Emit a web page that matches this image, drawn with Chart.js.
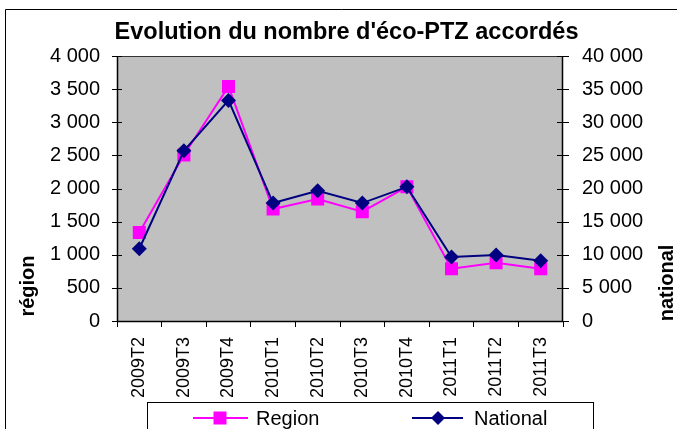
<!DOCTYPE html>
<html>
<head>
<meta charset="utf-8">
<script src="https://cdn.jsdelivr.net/npm/chart.js@4"></script>
<style>
html,body{margin:0;padding:0;background:#fff;}
canvas{display:block;}
</style>
</head>
<body>
<canvas id="c" width="677" height="429"></canvas>
<script>
const categories = ['2009T2','2009T3','2009T4','2010T1','2010T2','2010T3','2010T4','2011T1','2011T2','2011T3'];
const regionValues = [1335, 2505, 3540, 1690, 1840, 1650, 2025, 790, 880, 790];
const nationalValues = [10900, 25700, 33300, 17800, 19650, 17800, 20250, 9650, 9950, 9080];
const regionTicks = [0, 500, 1000, 1500, 2000, 2500, 3000, 3500, 4000];
const nationalTicks = [0, 5000, 10000, 15000, 20000, 25000, 30000, 35000, 40000];
const titleText = "Evolution du nombre d'éco-PTZ accordés";
const leftTitle = 'région';
const rightTitle = 'national';
const seriesNames = ['Region', 'National'];

const FONT = '"Liberation Sans", Arial, sans-serif';
const fmt = v => String(v).replace(/\B(?=(\d{3})+(?!\d))/g, ' ');

const deco = {
  id: 'deco',
  beforeDraw(chart) {
    const ctx = chart.ctx, a = chart.chartArea;
    ctx.save();
    ctx.fillStyle = '#fff';
    ctx.fillRect(0, 0, chart.width, chart.height);
    // outer frame
    ctx.strokeStyle = '#000';
    ctx.lineWidth = 1;
    ctx.beginPath();
    ctx.moveTo(5.5, chart.height + 5);
    ctx.lineTo(5.5, 9.5);
    ctx.lineTo(chart.width + 5, 9.5);
    ctx.stroke();
    // plot area
    ctx.fillStyle = '#C0C0C0';
    ctx.fillRect(a.left, a.top, a.right - a.left, a.bottom - a.top);
    ctx.strokeStyle = '#333';
    ctx.strokeRect(a.left + 0.5, a.top + 0.5, a.right - a.left - 1, a.bottom - a.top);
    ctx.restore();
  },
  afterDraw(chart) {
    const ctx = chart.ctx, a = chart.chartArea;
    ctx.save();
    // axis lines
    ctx.strokeStyle = '#000';
    ctx.lineWidth = 1.5;
    ctx.beginPath();
    ctx.moveTo(a.left + 0.5, a.top); ctx.lineTo(a.left + 0.5, a.bottom);
    ctx.moveTo(a.right - 0.5, a.top); ctx.lineTo(a.right - 0.5, a.bottom);
    ctx.moveTo(a.left, a.bottom + 0.5); ctx.lineTo(a.right, a.bottom + 0.5);
    ctx.stroke();
    // cross tick marks on y axes
    ctx.lineWidth = 1;
    const yl = chart.scales.y, yr = chart.scales.y2;
    ctx.beginPath();
    regionTicks.forEach(v => {
      const py = Math.round(yl.getPixelForValue(v)) + 0.5;
      ctx.moveTo(a.left - 5, py); ctx.lineTo(a.left + 5, py);
    });
    nationalTicks.forEach(v => {
      const py = Math.round(yr.getPixelForValue(v)) + 0.5;
      ctx.moveTo(a.right - 6, py); ctx.lineTo(a.right + 6, py);
    });
    ctx.stroke();

    // title
    ctx.fillStyle = '#000';
    ctx.font = 'bold 23.5px ' + FONT;
    ctx.textAlign = 'center';
    ctx.textBaseline = 'alphabetic';
    ctx.fillText(titleText, 346.5, 38.5);

    // axis titles (both reading bottom to top)
    ctx.font = 'bold 20px ' + FONT;
    ctx.textBaseline = 'alphabetic';
    ctx.save();
    ctx.translate(34, 286);
    ctx.rotate(-Math.PI / 2);
    ctx.fillText(leftTitle, 0, 0);
    ctx.restore();
    ctx.save();
    ctx.translate(673, 283);
    ctx.rotate(-Math.PI / 2);
    ctx.fillText(rightTitle, 0, 0);
    ctx.restore();

    // legend box
    ctx.strokeStyle = '#000';
    ctx.lineWidth = 1;
    ctx.fillStyle = '#fff';
    ctx.fillRect(147, 402, 446, 40);
    ctx.strokeRect(147.5, 402.5, 446, 40);
    const ly = 418;
    // Region item
    ctx.strokeStyle = '#FF00FF';
    ctx.lineWidth = 2;
    ctx.beginPath(); ctx.moveTo(193, ly); ctx.lineTo(248, ly); ctx.stroke();
    ctx.fillStyle = '#FF00FF';
    ctx.fillRect(220 - 6.5, ly - 6.5, 13, 13);
    // National item
    ctx.strokeStyle = '#000080';
    ctx.beginPath(); ctx.moveTo(412, ly); ctx.lineTo(463, ly); ctx.stroke();
    ctx.fillStyle = '#000080';
    ctx.beginPath();
    ctx.moveTo(438, ly - 7); ctx.lineTo(445, ly); ctx.lineTo(438, ly + 7); ctx.lineTo(431, ly);
    ctx.closePath(); ctx.fill();
    ctx.fillStyle = '#000';
    ctx.font = '20px ' + FONT;
    ctx.textAlign = 'left';
    ctx.textBaseline = 'middle';
    ctx.fillText(seriesNames[0], 256, ly + 1);
    ctx.fillText(seriesNames[1], 474, ly + 1);
    ctx.restore();
  }
};

new Chart(document.getElementById('c'), {
  type: 'line',
  data: {
    labels: categories,
    datasets: [
      {
        label: seriesNames[0],
        data: regionValues,
        yAxisID: 'y',
        borderColor: '#FF00FF',
        backgroundColor: '#FF00FF',
        borderWidth: 2,
        pointStyle: 'rect',
        pointRadius: 9.2,
        pointHoverRadius: 9.2,
        pointBorderWidth: 0,
        tension: 0,
        order: 1
      },
      {
        label: seriesNames[1],
        data: nationalValues,
        yAxisID: 'y2',
        borderColor: '#000080',
        backgroundColor: '#000080',
        borderWidth: 2,
        pointStyle: 'rectRot',
        pointRadius: 7.5,
        pointHoverRadius: 7.5,
        pointBorderWidth: 0,
        tension: 0,
        order: 0
      }
    ]
  },
  options: {
    responsive: false,
    devicePixelRatio: 1,
    animation: false,
    layout: { padding: { left: 0, right: 0, top: 56, bottom: 0 } },
    plugins: { legend: { display: false }, title: { display: false }, tooltip: { enabled: false } },
    scales: {
      x: {
        type: 'category',
        offset: true,
        grid: { offset: true, drawOnChartArea: false, drawTicks: true, tickLength: 6, color: '#000', lineWidth: 1 },
        border: { display: false },
        ticks: {
          autoSkip: false,
          minRotation: 90,
          maxRotation: 90,
          padding: 10,
          color: '#000',
          font: { family: FONT, size: 18 }
        },
        afterFit(s) { s.height = 108; }
      },
      y: {
        position: 'left',
        min: 0, max: 4000,
        afterBuildTicks(s) { s.ticks = regionTicks.map(v => ({ value: v })); },
        grid: { drawOnChartArea: false, drawTicks: true, tickLength: 5, color: 'rgba(0,0,0,0)' },
        border: { display: false },
        ticks: { padding: 12, color: '#000', font: { family: FONT, size: 20 }, callback: v => fmt(v) },
        afterFit(s) { s.width = 117; }
      },
      y2: {
        position: 'right',
        min: 0, max: 40000,
        afterBuildTicks(s) { s.ticks = nationalTicks.map(v => ({ value: v })); },
        grid: { drawOnChartArea: false, drawTicks: true, tickLength: 5, color: 'rgba(0,0,0,0)' },
        border: { display: false },
        ticks: { padding: 14, color: '#000', font: { family: FONT, size: 20 }, callback: v => fmt(v) },
        afterFit(s) { s.width = 677 - 563; }
      }
    }
  },
  plugins: [deco]
});
</script>
</body>
</html>
